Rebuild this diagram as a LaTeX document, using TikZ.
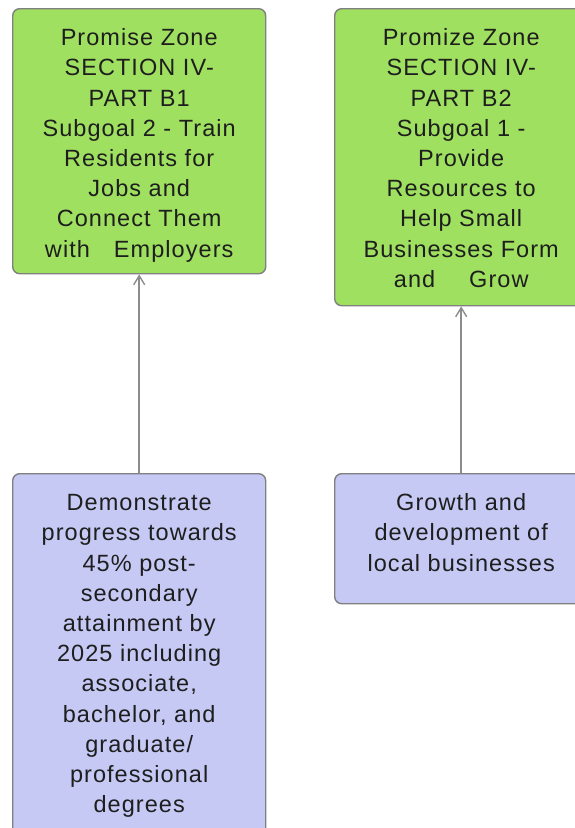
\documentclass[tikz,border=0pt]{standalone}
\usepackage{fontspec}
\setmainfont[LetterSpace=4.5]{Liberation Sans}
\usetikzlibrary{arrows.meta}
\definecolor{gfill}{HTML}{9FE060}
\definecolor{bfill}{HTML}{C5C9F4}
\definecolor{edge}{HTML}{808080}
\definecolor{wire}{HTML}{8C8C8C}
\definecolor{ink}{HTML}{1E1E1E}
\newcommand{\boxtext}[3]{\begin{minipage}[c][#2][t]{#1}\centering\fontsize{23.5}{30.2}\selectfont\color{ink}\rule{0pt}{37pt}#3\end{minipage}}
\tikzset{
  card/.style={draw=edge, line width=1.4pt, rounded corners=7pt, inner sep=0pt, anchor=north west},
  goal/.style={card, fill=gfill},
  outc/.style={card, fill=bfill},
  link/.style={draw=wire, line width=1.6pt, -{Straight Barb[length=9pt,width=11pt,line width=1.4pt]}}
}
\begin{document}
\begin{tikzpicture}[x=1pt,y=-1pt]
\useasboundingbox (0,0) rectangle (575,828);
\fill[white] (0,0) rectangle (575,828);
\node[goal] (g1) at (12,8) {\boxtext{253pt}{265pt}{Promise Zone\\SECTION IV-\\PART B1\\Subgoal 2 - Train\\Residents for\\Jobs and\\Connect Them\\with\hspace{24pt}Employers}};
\node[goal] (g2) at (334,8) {\boxtext{253pt}{297pt}{Promize Zone\\SECTION IV-\\PART B2\\Subgoal 1 -\\Provide\\Resources to\\Help Small\\Businesses Form\\and\hspace{34pt}Grow}};
\node[outc] (b1) at (12,473) {\boxtext{253pt}{367pt}{Demonstrate\\progress towards\\45\% post-\\secondary\\attainment by\\2025 including\\associate,\\bachelor, and\\graduate/\\professional\\degrees}};
\node[outc] (b2) at (334,473) {\boxtext{253pt}{130pt}{Growth and\\development of\\local businesses}};
\draw[link] (b1.north) -- (g1.south);
\draw[link] (b2.north) -- (g2.south);
\end{tikzpicture}
\end{document}
